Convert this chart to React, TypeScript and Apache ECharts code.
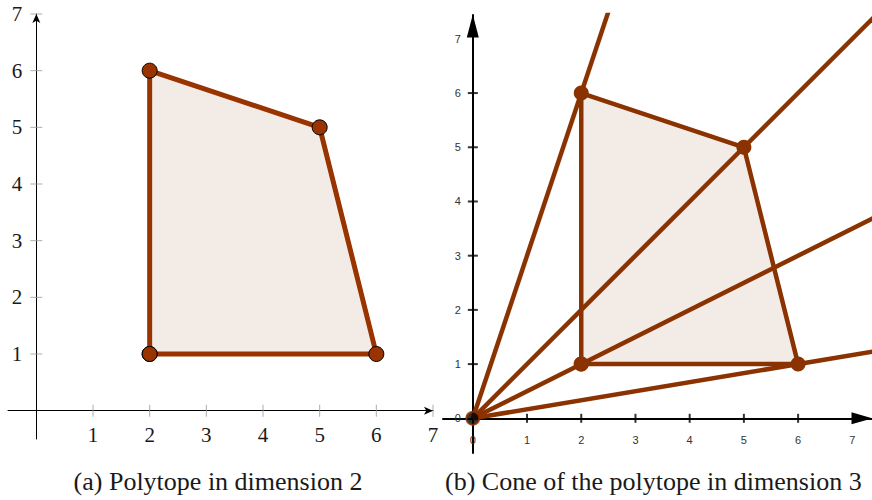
import React, { useEffect, useRef } from "react";
import * as echarts from "echarts";

// Polytope vertices (x, y)
const vertexX = [2, 6, 5, 2];
const vertexY = [1, 1, 5, 6];
// Axis tick values
const leftTicks = [1, 2, 3, 4, 5, 6, 7];
const rightTickMarks = [1, 2, 3, 4, 5, 6];
const rightLabels = [0, 1, 2, 3, 4, 5, 6, 7];
const captionA = "(a) Polytope in dimension 2";
const captionB = "(b) Cone of the polytope in dimension 3";

const LEFT_COLOR = "#993300";
const RIGHT_COLOR = "#8a3200";
const FILL = "#f3ebe6";
const SERIF = "'Liberation Serif', 'Times New Roman', serif";
const SANS = "'Liberation Sans', Arial, sans-serif";

export default function App() {
  const ref = useRef<HTMLDivElement>(null);
  useEffect(() => {
    if (!ref.current) return;
    const chart = echarts.init(ref.current, undefined, { renderer: "svg" });
    const verts = vertexX.map((x, i) => [x, vertexY[i]]);
    const closed = [...verts, verts[0]];

    const polygonSeries = (gi: number, color: string) => ({
      type: "custom",
      xAxisIndex: gi,
      yAxisIndex: gi,
      z: 1,
      silent: true,
      data: verts,
      renderItem: (params: any, api: any) => {
        if (params.dataIndex !== 0) return null;
        const pts = verts.map((v) => api.coord(v));
        return { type: "polygon", shape: { points: pts }, style: { fill: color } };
      },
    });

    const rays = verts.map((v) => ({
      type: "line",
      xAxisIndex: 1,
      yAxisIndex: 1,
      z: 3,
      clip: true,
      symbol: "none",
      silent: true,
      lineStyle: { color: RIGHT_COLOR, width: 4.5 },
      data: [
        [0, 0],
        [v[0] * 12, v[1] * 12],
      ],
    }));

    // left grid: 56.667 px/unit, right grid: 54.2 px/unit
    const option: any = {
      animation: false,
      grid: [
        { left: 8, top: 14, width: 425, height: 425, outerBoundsMode: "none", containLabel: false },
        { left: 443, top: 15, width: 431, height: 438, outerBoundsMode: "none", containLabel: false },
      ],
      xAxis: [
        {
          gridIndex: 0,
          type: "value",
          min: -0.5,
          max: 7,
          position: "bottom",
          offset: -28.33,
          splitLine: { show: false },
          axisTick: { show: false },
          axisLine: {
            show: true,
            onZero: false,
            symbol: ["none", "arrow"],
            symbolSize: [6, 9],
            lineStyle: { color: "#000", width: 1 },
          },
          axisLabel: {
            customValues: leftTicks,
            margin: 14,
            fontFamily: SERIF,
            fontSize: 21,
            color: "#1a1a1a",
          },
        },
        {
          gridIndex: 1,
          type: "value",
          min: -0.55,
          max: 7.4,
          position: "bottom",
          offset: -34.7,
          splitLine: { show: false },
          axisTick: { show: false },
          axisLine: {
            show: true,
            onZero: false,
            symbol: ["none", "triangle"],
            symbolSize: [12, 21],
            symbolOffset: [0, -12],
            lineStyle: { color: "#000", width: 2 },
          },
          axisLabel: {
            customValues: rightLabels,
            margin: 16,
            fontFamily: SANS,
            fontSize: 11,
            color: "#333",
          },
        },
      ],
      yAxis: [
        {
          gridIndex: 0,
          type: "value",
          min: -0.5,
          max: 7,
          position: "left",
          offset: -28.33,
          splitLine: { show: false },
          axisTick: { show: false },
          axisLine: {
            show: true,
            onZero: false,
            symbol: ["none", "arrow"],
            symbolSize: [6, 9],
            lineStyle: { color: "#000", width: 1 },
          },
          axisLabel: {
            customValues: leftTicks,
            margin: 14,
            fontFamily: SERIF,
            fontSize: 21,
            color: "#1a1a1a",
          },
        },
        {
          gridIndex: 1,
          type: "value",
          min: -0.64,
          max: 7.44,
          position: "left",
          offset: -29.8,
          splitLine: { show: false },
          axisTick: { show: false },
          axisLine: {
            show: true,
            onZero: false,
            symbol: ["none", "triangle"],
            symbolSize: [12, 23],
            symbolOffset: [0, -11],
            lineStyle: { color: "#000", width: 2 },
          },
          axisLabel: {
            customValues: rightLabels,
            margin: 12,
            fontFamily: SANS,
            fontSize: 11,
            color: "#333",
          },
        },
      ],
      series: [
        // left tick marks
        {
          type: "scatter",
          xAxisIndex: 0,
          yAxisIndex: 0,
          silent: true,
          symbol: "rect",
          symbolSize: [1, 12],
          itemStyle: { color: "#999" },
          data: leftTicks.map((t) => [t, 0]),
        },
        {
          type: "scatter",
          xAxisIndex: 0,
          yAxisIndex: 0,
          silent: true,
          symbol: "rect",
          symbolSize: [12, 1],
          itemStyle: { color: "#999" },
          data: leftTicks.map((t) => [0, t]),
        },
        polygonSeries(0, FILL),
        {
          type: "line",
          xAxisIndex: 0,
          yAxisIndex: 0,
          z: 4,
          silent: true,
          symbol: "circle",
          symbolSize: 15,
          showAllSymbol: true,
          lineStyle: { color: LEFT_COLOR, width: 5 },
          itemStyle: { color: LEFT_COLOR, borderColor: "#000", borderWidth: 1 },
          data: closed,
        },
        // right tick marks
        {
          type: "scatter",
          xAxisIndex: 1,
          yAxisIndex: 1,
          silent: true,
          symbol: "rect",
          symbolSize: [2, 9],
          itemStyle: { color: "#000" },
          data: rightTickMarks.map((t) => [t, 0]),
        },
        {
          type: "scatter",
          xAxisIndex: 1,
          yAxisIndex: 1,
          silent: true,
          symbol: "rect",
          symbolSize: [10, 2],
          itemStyle: { color: "#000" },
          data: rightTickMarks.map((t) => [0, t]),
        },
        polygonSeries(1, FILL),
        ...rays,
        {
          type: "line",
          xAxisIndex: 1,
          yAxisIndex: 1,
          z: 4,
          silent: true,
          symbol: "circle",
          symbolSize: 15,
          showAllSymbol: true,
          lineStyle: { color: RIGHT_COLOR, width: 4.5 },
          itemStyle: { color: RIGHT_COLOR },
          data: closed,
        },
        {
          type: "scatter",
          xAxisIndex: 1,
          yAxisIndex: 1,
          z: 6,
          silent: true,
          symbol: "circle",
          symbolSize: 13,
          itemStyle: { color: "#000", borderColor: RIGHT_COLOR, borderWidth: 2 },
          data: [[0, 0]],
        },
      ],
      graphic: [
        {
          type: "text",
          x: 218,
          y: 481,
          style: {
            text: captionA,
            fontFamily: SERIF,
            fontSize: 26,
            fill: "#1a1a1a",
            align: "center",
            verticalAlign: "middle",
          },
        },
        {
          type: "text",
          x: 445,
          y: 481,
          style: {
            text: captionB,
            fontFamily: SERIF,
            fontSize: 26,
            fill: "#1a1a1a",
            align: "left",
            verticalAlign: "middle",
          },
        },
      ],
    };
    chart.setOption(option);
    return () => chart.dispose();
  }, []);
  return (
    <div
      ref={ref}
      style={{ position: "fixed", left: 0, top: 0, width: 872, height: 500, background: "#fff" }}
    />
  );
}
